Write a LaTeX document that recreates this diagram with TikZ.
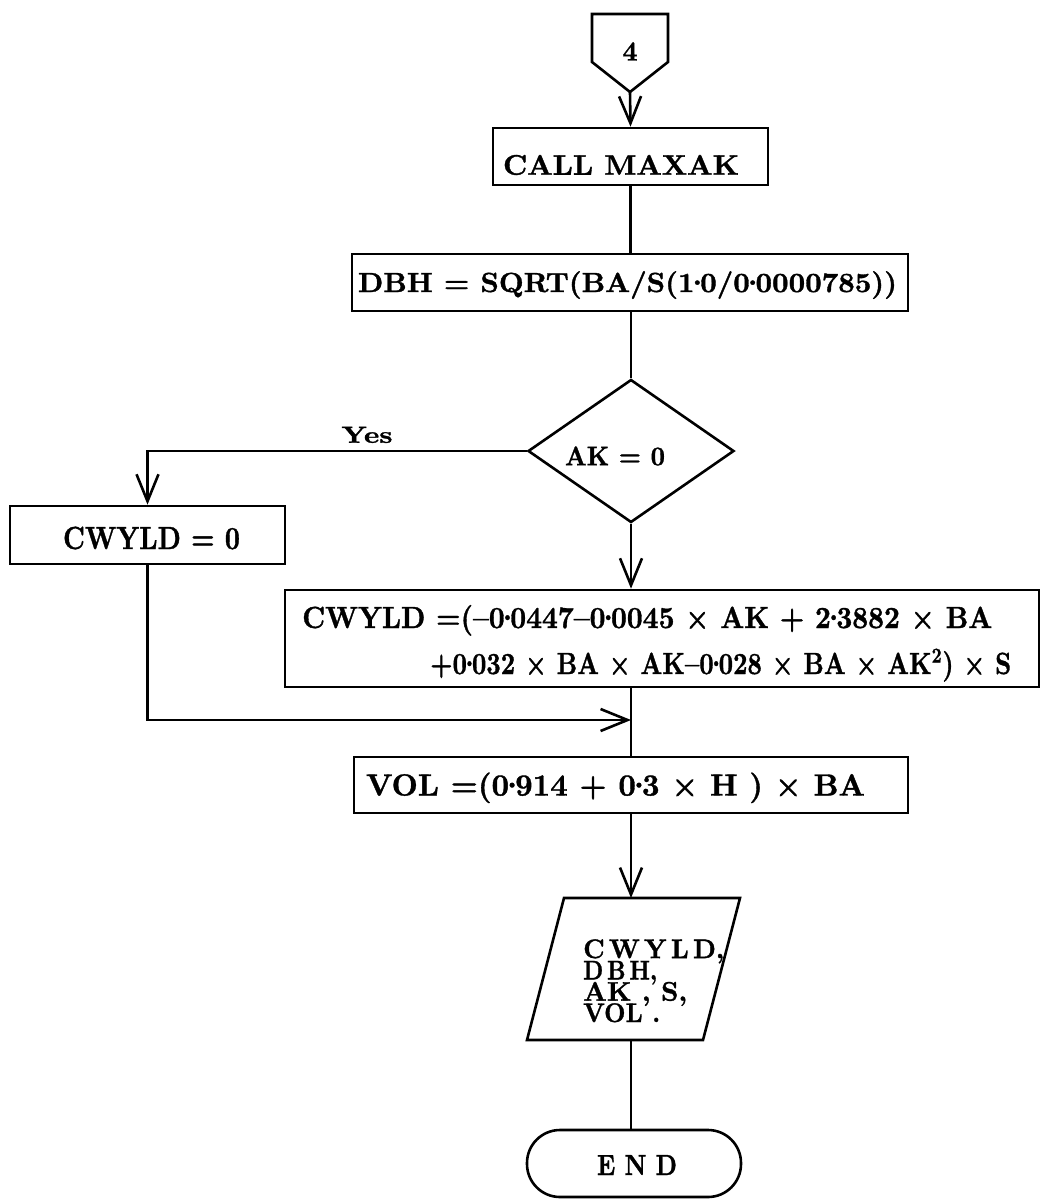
\documentclass[tikz,border=0pt]{standalone}
\usepackage{fontspec}
\usepackage{graphicx}
\usetikzlibrary{arrows.meta,shapes.geometric}
\newfontfamily\ff{lmroman10-bold.otf}[FakeBold=1.2]
% text scaled to a given width (#1) and cap height (#2)
\newcommand\fit[3]{\resizebox{#1}{#2}{\fontsize{17}{17}\selectfont\ff\smash{#3}\vphantom{X}}}
% tight raised decimal point
\newcommand\pd{\kern-0.06em\raisebox{0.26em}{.}\kern-0.06em}
\begin{document}
\begin{tikzpicture}[x=1pt,y=-1pt,
  box/.style={draw, line width=2.6pt, inner sep=0pt},
  lnk/.style={line width=2.6pt},
  arr/.style={line width=2.6pt, -{Straight Barb[length=27pt,width=22pt]}},
  tx/.style={text height=#1, text depth=0pt},
  lbl/.style={inner sep=0pt},
]
\useasboundingbox (0,0) rectangle (1041,1199);

% off-page connector
\draw[lnk, line join=miter] (592,14) -- (668,14) -- (668,62) -- (630,92) -- (592,62) -- cycle;
\node[lbl, tx=19pt] (four) at (630,51) {\fit{15pt}{19pt}{4}};
\coordinate (p4) at (630,92);

% CALL MAXAK
\node[box, minimum width=275pt, minimum height=57pt, tx=36.5pt]
  (call) at (630.5,156.5) {\fit{236pt}{19.5pt}{CALL MAXAK}\kern19pt};

% DBH
\node[box, minimum width=556pt, minimum height=57pt, tx=19pt]
  (dbh) at (630,282.5) {\fit{539pt}{19pt}{DBH = SQRT(BA/S(1\pd0/0\pd0000785))}\kern5pt};

% decision
\node[draw, diamond, aspect=1.44, line width=2.6pt, inner sep=0pt,
  minimum width=206pt, minimum height=143pt, tx=28.5pt]
  (dia) at (631,451) {\fit{100pt}{18.5pt}{AK = 0}\kern32pt};

\node[lbl, anchor=south] (yes) at (367,443) {\fit{51pt}{16pt}{Yes}};

% CWYLD = 0
\node[box, minimum width=275pt, minimum height=58pt, tx=28pt]
  (cw) at (147.5,535) {\kern8pt\fit{177pt}{22pt}{CWYLD = 0}};

% big formula box
\node[box, minimum width=754pt, minimum height=97pt] (big) at (662,638.5) {};
\node[lbl, anchor=base west] (bl1) at (302,628)
  {\fit{690pt}{21pt}{CWYLD =(–0\pd0447–0\pd0045 × AK + 2\pd3882 × BA}};
\node[lbl, anchor=base west] (bl2) at (430,674)
  {\fit{581pt}{21pt}{+0\pd032 × BA × AK–0\pd028 × BA × AK\textsuperscript{2}) × S}};

% VOL
\node[box, minimum width=554pt, minimum height=56pt, tx=21pt]
  (vol) at (631,785) {\fit{499pt}{21pt}{VOL =(0\pd914 + 0\pd3 × H ) × BA}\kern31pt};

% output parallelogram
\draw[lnk, line join=miter] (564,898) -- (740,898) -- (703,1040) -- (527,1040) -- cycle;
\coordinate (pin) at (631,898);
\coordinate (pout) at (631,1040);
\node[lbl, anchor=base west] (outtxt) at (583,1022) {\vbox{\baselineskip=21.3pt\lineskiplimit=-100pt\lineskip=0pt
  \hbox{\fit{141pt}{18.5pt}{C\,W\,Y\,L\,D,}}
  \hbox{\fit{74pt}{18.5pt}{D\,B\,H,}}
  \hbox{\fit{104pt}{18.5pt}{AK , S,}}
  \hbox{\fit{77pt}{18.5pt}{VOL .}}}};

% END terminal
\node[box, rounded corners=33pt, minimum width=214pt, minimum height=67pt, tx=23pt]
  (endn) at (634,1163.5) {\kern6pt\fit{80pt}{20pt}{E N D}};

% connectors
\draw[arr] (p4) -- (call.north);
\draw[lnk] (call.south) -- (call.south |- dbh.north);
\draw[lnk] (dbh.south -| dia.north) -- (dia.north);
\draw[arr] (dia.west) -| (cw.north);
\draw[arr] (dia.south) -- (dia.south |- big.north);
\coordinate (mrg) at (631,720);
\draw[lnk] (dia.south |- big.south) -- (dia.south |- vol.north);
\draw[arr] (cw.south) |- (mrg);
\draw[arr] (vol.south) -- (pin);
\draw[lnk] (pout) -- (pout |- endn.north);
\end{tikzpicture}
\end{document}
